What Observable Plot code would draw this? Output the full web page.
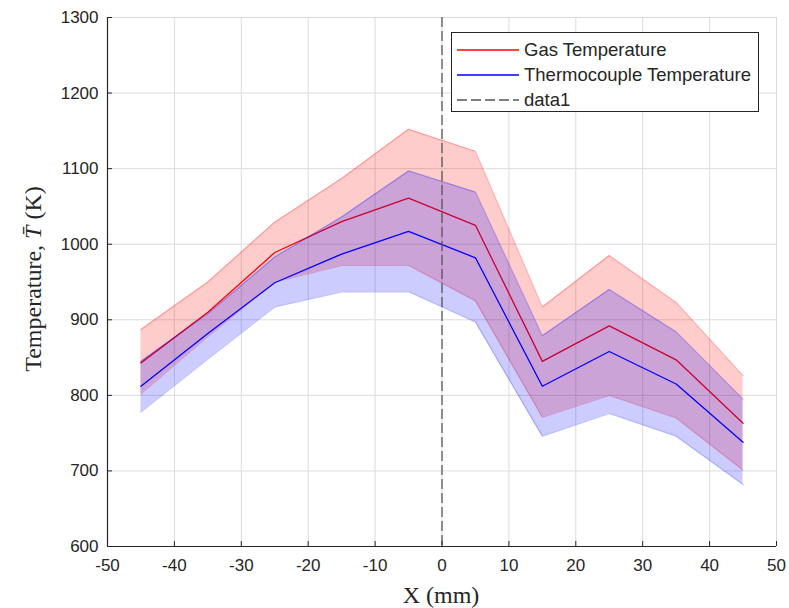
<!DOCTYPE html>
<html>
<head>
<meta charset="utf-8">
<script src="https://cdn.jsdelivr.net/npm/d3@7"></script>
<script src="https://cdn.jsdelivr.net/npm/@observablehq/plot@0.6"></script>
<style>
  body { margin: 0; background: #fff; }
  #wrap { position: relative; width: 789px; height: 608px; }
  #legend { position: absolute; left: 451px; top: 32px; width: 306px; height: 78px;
    border: 1px solid #262626; background: #fff; font-family: "Liberation Sans", Arial, sans-serif;
    font-size: 18.5px; color: #262626; }
  .row { position: absolute; left: 5px; height: 22px; display: flex; align-items: center; }
  .row svg { width: 62px; height: 20px; margin-right: 5px; }
</style>
</head>
<body>
<div id="wrap"><div id="legend"></div></div>
<script>
const xPos = [-45, -35, -25, -15, -5, 5, 15, 25, 35, 45];
const gasMean  = [843, 910, 989, 1030, 1061, 1025, 845, 892, 847, 763];
const gasUpper = [887, 950, 1029, 1087, 1152, 1123, 917, 985, 923, 826];
const gasLower = [802, 878, 950, 972, 972, 925, 771, 800, 770, 701];
const tcMean   = [812, 882, 949, 987, 1017, 982, 812, 858, 815, 738];
const tcUpper  = [845, 908, 983, 1036, 1097, 1069, 879, 940, 884, 795];
const tcLower  = [778, 848, 917, 937, 937, 897, 746, 776, 746, 682];
const dataLineX = [0];
const xTicks = [-50, -40, -30, -20, -10, 0, 10, 20, 30, 40, 50];
const yTicks = [600, 700, 800, 900, 1000, 1100, 1200, 1300];
const seriesNames = ["Gas Temperature", "Thermocouple Temperature", "data1"];

const gas = xPos.map((x, i) => ({x, mean: gasMean[i], lo: gasLower[i], hi: gasUpper[i]}));
const tc = xPos.map((x, i) => ({x, mean: tcMean[i], lo: tcLower[i], hi: tcUpper[i]}));

const RED = "#ff0000", BLUE = "#0000ff";
const fmt = d => String(d);

const chart = Plot.plot({
  width: 789, height: 608,
  marginLeft: 107, marginRight: 13, marginTop: 17, marginBottom: 62,
  style: { fontFamily: "Liberation Sans, Arial, sans-serif", fontSize: "17px", color: "#262626", background: "#fff" },
  x: { domain: [-50, 50], ticks: xTicks },
  y: { domain: [600, 1300], ticks: yTicks },
  marks: [
    Plot.gridX(xTicks, { stroke: "#dcdcdc", strokeOpacity: 1 }),
    Plot.gridY(yTicks, { stroke: "#dcdcdc", strokeOpacity: 1 }),
    Plot.areaY(gas, { x: "x", y1: "lo", y2: "hi", fill: RED, fillOpacity: 0.2 }),
    Plot.line(gas, { x: "x", y: "hi", stroke: RED, strokeOpacity: 0.25, strokeWidth: 1.2 }),
    Plot.line(gas, { x: "x", y: "lo", stroke: RED, strokeOpacity: 0.25, strokeWidth: 1.2 }),
    Plot.line(gas, { x: "x", y: "mean", stroke: RED, strokeWidth: 1.3 }),
    Plot.areaY(tc, { x: "x", y1: "lo", y2: "hi", fill: BLUE, fillOpacity: 0.2 }),
    Plot.line(tc, { x: "x", y: "hi", stroke: BLUE, strokeOpacity: 0.25, strokeWidth: 1.2 }),
    Plot.line(tc, { x: "x", y: "lo", stroke: BLUE, strokeOpacity: 0.25, strokeWidth: 1.2 }),
    Plot.line(tc, { x: "x", y: "mean", stroke: BLUE, strokeWidth: 1.3 }),
    Plot.ruleX(dataLineX, { stroke: "#555", strokeOpacity: 0.9, strokeDasharray: "10,4", strokeWidth: 1.4 }),
    Plot.axisX(xTicks, { tickSize: -5, tickPadding: 17, tickFormat: fmt, label: null, stroke: "#262626", fill: "#262626" }),
    Plot.axisY(yTicks, { tickSize: -5, tickPadding: 14, tickFormat: fmt, label: null, stroke: "#262626", fill: "#262626" }),
    Plot.ruleX([-50], { stroke: "#262626", strokeWidth: 1.2 }),
    Plot.ruleY([600], { stroke: "#262626", strokeWidth: 1.2 })
  ]
});

const svg = d3.select(chart);
const yl = svg.append("text")
  .attr("transform", "translate(41,279) rotate(-90)")
  .attr("text-anchor", "middle")
  .attr("font-family", "Liberation Serif, Times New Roman, serif")
  .attr("font-size", 24).attr("fill", "#262626");
yl.append("tspan").text("Temperature, ");
yl.append("tspan").attr("font-style", "italic").text("T\u0304");
yl.append("tspan").text(" (K)");
svg.append("text")
  .attr("x", 441).attr("y", 603)
  .attr("text-anchor", "middle")
  .attr("font-family", "Liberation Serif, Times New Roman, serif")
  .attr("font-size", 24).attr("fill", "#262626")
  .text("X (mm)");

document.getElementById("wrap").prepend(chart);

const legend = document.getElementById("legend");
const styles = [
  { stroke: RED, dash: null },
  { stroke: BLUE, dash: null },
  { stroke: "#555", dash: "10,4" }
];
seriesNames.forEach((name, i) => {
  const row = document.createElement("div");
  row.className = "row";
  row.style.top = (6 + i * 25) + "px";
  row.innerHTML = `<svg viewBox="0 0 62 20"><line x1="0" x2="62" y1="10" y2="10" stroke="${styles[i].stroke}" stroke-width="1.3" ${styles[i].dash ? `stroke-dasharray="${styles[i].dash}"` : ""}/></svg><span>${name}</span>`;
  legend.appendChild(row);
});
</script>
</body>
</html>
